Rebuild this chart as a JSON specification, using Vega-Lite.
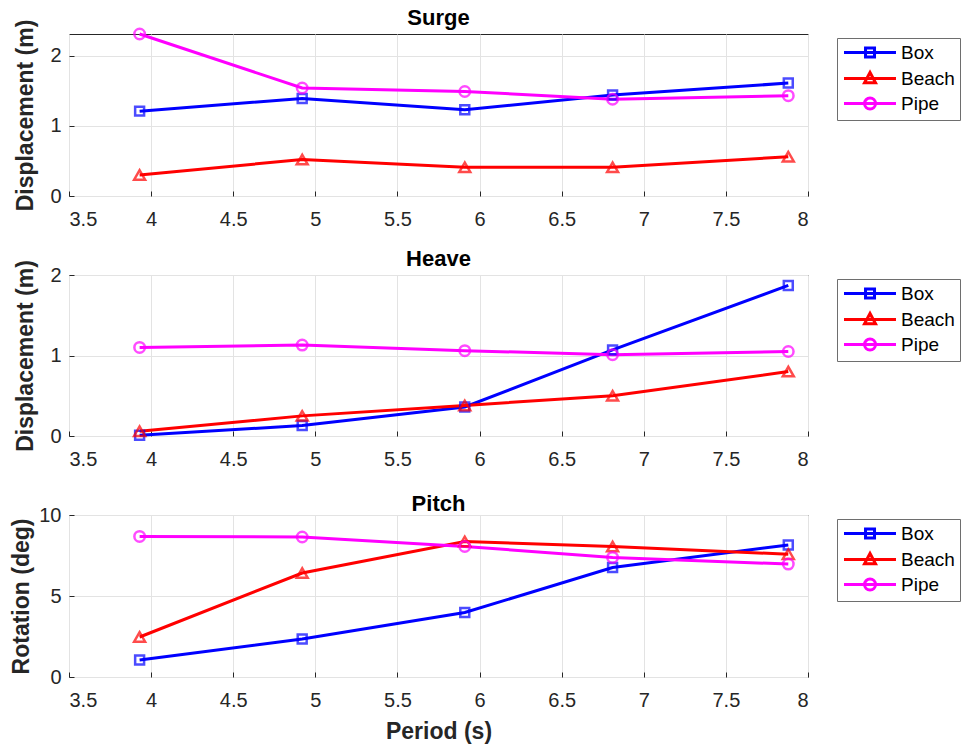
{
 "$schema": "https://vega.github.io/schema/vega-lite/v6.json",
 "background": "white",
 "padding": {"left": 10, "top": 6, "right": 0, "bottom": 0},
 "bounds": "flush",
 "spacing": 79,
 "config": {
  "font": "Liberation Sans",
  "view": {"stroke": "#262626", "strokeWidth": 1},
  "axis": {"grid": true, "gridColor": "#e3e3e3", "domain": false, "tickColor": "#262626", "tickSize": -5, "labelFont": "Liberation Sans", "labelFontSize": 20, "labelColor": "#262626", "titleFont": "Liberation Sans", "titleFontSize": 23, "titleFontWeight": "bold", "titleColor": "#262626"},
  "axisX": {"labelPadding": 18, "titlePadding": 10},
  "axisY": {"labelPadding": 13, "titlePadding": 12},
  "legend": {"strokeColor": "#6e6e6e", "fillColor": "white", "padding": 5, "labelFont": "Liberation Sans", "labelFontSize": 19, "labelColor": "#000", "labelOffset": 40, "symbolSize": 225, "symbolStrokeWidth": 3, "rowPadding": 3, "orient": "none", "legendX": 768, "legendY": 4},
  "title": {"fontSize": 22, "fontWeight": "bold", "color": "#000", "offset": -11, "font": "Liberation Sans"}
 },
 "datasets": {
  "d": [
   {"panel": "Surge", "series": "Box", "period": 3.93, "value": 1.21},
   {"panel": "Surge", "series": "Box", "period": 4.92, "value": 1.39},
   {"panel": "Surge", "series": "Box", "period": 5.91, "value": 1.23},
   {"panel": "Surge", "series": "Box", "period": 6.81, "value": 1.44},
   {"panel": "Surge", "series": "Box", "period": 7.88, "value": 1.61},
   {"panel": "Surge", "series": "Beach", "period": 3.93, "value": 0.30},
   {"panel": "Surge", "series": "Beach", "period": 4.92, "value": 0.52},
   {"panel": "Surge", "series": "Beach", "period": 5.91, "value": 0.41},
   {"panel": "Surge", "series": "Beach", "period": 6.81, "value": 0.41},
   {"panel": "Surge", "series": "Beach", "period": 7.88, "value": 0.56},
   {"panel": "Surge", "series": "Pipe", "period": 3.93, "value": 2.31},
   {"panel": "Surge", "series": "Pipe", "period": 4.92, "value": 1.54},
   {"panel": "Surge", "series": "Pipe", "period": 5.91, "value": 1.49},
   {"panel": "Surge", "series": "Pipe", "period": 6.81, "value": 1.38},
   {"panel": "Surge", "series": "Pipe", "period": 7.88, "value": 1.43},
   {"panel": "Heave", "series": "Box", "period": 3.93, "value": 0.01},
   {"panel": "Heave", "series": "Box", "period": 4.92, "value": 0.13},
   {"panel": "Heave", "series": "Box", "period": 5.91, "value": 0.36},
   {"panel": "Heave", "series": "Box", "period": 6.81, "value": 1.07},
   {"panel": "Heave", "series": "Box", "period": 7.88, "value": 1.87},
   {"panel": "Heave", "series": "Beach", "period": 3.93, "value": 0.06},
   {"panel": "Heave", "series": "Beach", "period": 4.92, "value": 0.25},
   {"panel": "Heave", "series": "Beach", "period": 5.91, "value": 0.38},
   {"panel": "Heave", "series": "Beach", "period": 6.81, "value": 0.50},
   {"panel": "Heave", "series": "Beach", "period": 7.88, "value": 0.80},
   {"panel": "Heave", "series": "Pipe", "period": 3.93, "value": 1.10},
   {"panel": "Heave", "series": "Pipe", "period": 4.92, "value": 1.13},
   {"panel": "Heave", "series": "Pipe", "period": 5.91, "value": 1.06},
   {"panel": "Heave", "series": "Pipe", "period": 6.81, "value": 1.01},
   {"panel": "Heave", "series": "Pipe", "period": 7.88, "value": 1.05},
   {"panel": "Pitch", "series": "Box", "period": 3.93, "value": 1.05},
   {"panel": "Pitch", "series": "Box", "period": 4.92, "value": 2.35},
   {"panel": "Pitch", "series": "Box", "period": 5.91, "value": 3.98},
   {"panel": "Pitch", "series": "Box", "period": 6.81, "value": 6.76},
   {"panel": "Pitch", "series": "Box", "period": 7.88, "value": 8.15},
   {"panel": "Pitch", "series": "Beach", "period": 3.93, "value": 2.47},
   {"panel": "Pitch", "series": "Beach", "period": 4.92, "value": 6.42},
   {"panel": "Pitch", "series": "Beach", "period": 5.91, "value": 8.37},
   {"panel": "Pitch", "series": "Beach", "period": 6.81, "value": 8.05},
   {"panel": "Pitch", "series": "Beach", "period": 7.88, "value": 7.58},
   {"panel": "Pitch", "series": "Pipe", "period": 3.93, "value": 8.68},
   {"panel": "Pitch", "series": "Pipe", "period": 4.92, "value": 8.64},
   {"panel": "Pitch", "series": "Pipe", "period": 5.91, "value": 8.06},
   {"panel": "Pitch", "series": "Pipe", "period": 6.81, "value": 7.38},
   {"panel": "Pitch", "series": "Pipe", "period": 7.88, "value": 6.97}
  ]
 },
 "vconcat": [
  {
   "title": "Surge",
   "width": 739, "height": 162,
   "data": {"name": "d"},
   "transform": [{"filter": "datum.panel === 'Surge'"}],
   "encoding": {
    "x": {"field": "period", "type": "quantitative", "scale": {"domain": [3.5, 8], "nice": false, "zero": false}, "axis": {"values": [3.5, 4, 4.5, 5, 5.5, 6, 6.5, 7, 7.5, 8], "format": "~f", "title": null}},
    "y": {"field": "value", "type": "quantitative", "scale": {"domain": [0, 2.31], "nice": false}, "axis": {"values": [0, 1, 2], "format": "~f", "title": "Displacement (m)"}},
    "color": {"field": "series", "type": "nominal", "sort": ["Box", "Beach", "Pipe"], "scale": {"domain": ["Box", "Beach", "Pipe"], "range": ["#0000ff", "#ff0000", "#ff00ff"]},
     "legend": {"title": null, "encode": {"symbols": {"update": {"shape": {"signal": "datum.value === 'Box' ? 'M-1,0H5.93M1.87,-0.6h1.2v1.2h-1.2z' : datum.value === 'Beach' ? 'M-1,0H5.93M2.47,-0.8L3.2,0.55L1.74,0.55Z' : 'M-1,0H5.93M1.74,0a0.73,0.73 0 1,0 1.46,0a0.73,0.73 0 1,0 -1.46,0'"}, "strokeWidth": {"value": 3}, "fill": {"value": "transparent"}}}}}}
   },
   "layer": [
    {"mark": {"type": "line", "strokeWidth": 3}},
    {"transform": [{"filter": "datum.series === 'Box'"}], "mark": {"type": "point", "shape": "square", "filled": false, "strokeWidth": 2.5, "size": 80}},
    {"transform": [{"filter": "datum.series === 'Beach'"}], "mark": {"type": "point", "shape": "triangle-up", "filled": false, "strokeWidth": 2.5, "size": 120}},
    {"transform": [{"filter": "datum.series === 'Pipe'"}], "mark": {"type": "point", "shape": "circle", "filled": false, "strokeWidth": 2.5, "size": 110}}
   ]
  },
  {
   "title": "Heave",
   "width": 739, "height": 161,
   "data": {"name": "d"},
   "transform": [{"filter": "datum.panel === 'Heave'"}],
   "encoding": {
    "x": {"field": "period", "type": "quantitative", "scale": {"domain": [3.5, 8], "nice": false, "zero": false}, "axis": {"values": [3.5, 4, 4.5, 5, 5.5, 6, 6.5, 7, 7.5, 8], "format": "~f", "title": null}},
    "y": {"field": "value", "type": "quantitative", "scale": {"domain": [0, 2], "nice": false}, "axis": {"values": [0, 1, 2], "format": "~f", "title": "Displacement (m)"}},
    "color": {"field": "series", "type": "nominal", "sort": ["Box", "Beach", "Pipe"], "scale": {"domain": ["Box", "Beach", "Pipe"], "range": ["#0000ff", "#ff0000", "#ff00ff"]},
     "legend": {"title": null, "encode": {"symbols": {"update": {"shape": {"signal": "datum.value === 'Box' ? 'M-1,0H5.93M1.87,-0.6h1.2v1.2h-1.2z' : datum.value === 'Beach' ? 'M-1,0H5.93M2.47,-0.8L3.2,0.55L1.74,0.55Z' : 'M-1,0H5.93M1.74,0a0.73,0.73 0 1,0 1.46,0a0.73,0.73 0 1,0 -1.46,0'"}, "strokeWidth": {"value": 3}, "fill": {"value": "transparent"}}}}}}
   },
   "layer": [
    {"mark": {"type": "line", "strokeWidth": 3}},
    {"transform": [{"filter": "datum.series === 'Box'"}], "mark": {"type": "point", "shape": "square", "filled": false, "strokeWidth": 2.5, "size": 80}},
    {"transform": [{"filter": "datum.series === 'Beach'"}], "mark": {"type": "point", "shape": "triangle-up", "filled": false, "strokeWidth": 2.5, "size": 120}},
    {"transform": [{"filter": "datum.series === 'Pipe'"}], "mark": {"type": "point", "shape": "circle", "filled": false, "strokeWidth": 2.5, "size": 110}}
   ]
  },
  {
   "title": "Pitch",
   "width": 739, "height": 162,
   "data": {"name": "d"},
   "transform": [{"filter": "datum.panel === 'Pitch'"}],
   "encoding": {
    "x": {"field": "period", "type": "quantitative", "scale": {"domain": [3.5, 8], "nice": false, "zero": false}, "axis": {"values": [3.5, 4, 4.5, 5, 5.5, 6, 6.5, 7, 7.5, 8], "format": "~f", "title": "Period (s)"}},
    "y": {"field": "value", "type": "quantitative", "scale": {"domain": [0, 10], "nice": false}, "axis": {"values": [0, 5, 10], "format": "~f", "title": "Rotation (deg)", "titlePadding": 5}},
    "color": {"field": "series", "type": "nominal", "sort": ["Box", "Beach", "Pipe"], "scale": {"domain": ["Box", "Beach", "Pipe"], "range": ["#0000ff", "#ff0000", "#ff00ff"]},
     "legend": {"title": null, "encode": {"symbols": {"update": {"shape": {"signal": "datum.value === 'Box' ? 'M-1,0H5.93M1.87,-0.6h1.2v1.2h-1.2z' : datum.value === 'Beach' ? 'M-1,0H5.93M2.47,-0.8L3.2,0.55L1.74,0.55Z' : 'M-1,0H5.93M1.74,0a0.73,0.73 0 1,0 1.46,0a0.73,0.73 0 1,0 -1.46,0'"}, "strokeWidth": {"value": 3}, "fill": {"value": "transparent"}}}}}}
   },
   "layer": [
    {"mark": {"type": "line", "strokeWidth": 3}},
    {"transform": [{"filter": "datum.series === 'Box'"}], "mark": {"type": "point", "shape": "square", "filled": false, "strokeWidth": 2.5, "size": 80}},
    {"transform": [{"filter": "datum.series === 'Beach'"}], "mark": {"type": "point", "shape": "triangle-up", "filled": false, "strokeWidth": 2.5, "size": 120}},
    {"transform": [{"filter": "datum.series === 'Pipe'"}], "mark": {"type": "point", "shape": "circle", "filled": false, "strokeWidth": 2.5, "size": 110}}
   ]
  }
 ],
 "resolve": {"scale": {"color": "independent", "y": "independent"}, "legend": {"color": "independent"}}
}
